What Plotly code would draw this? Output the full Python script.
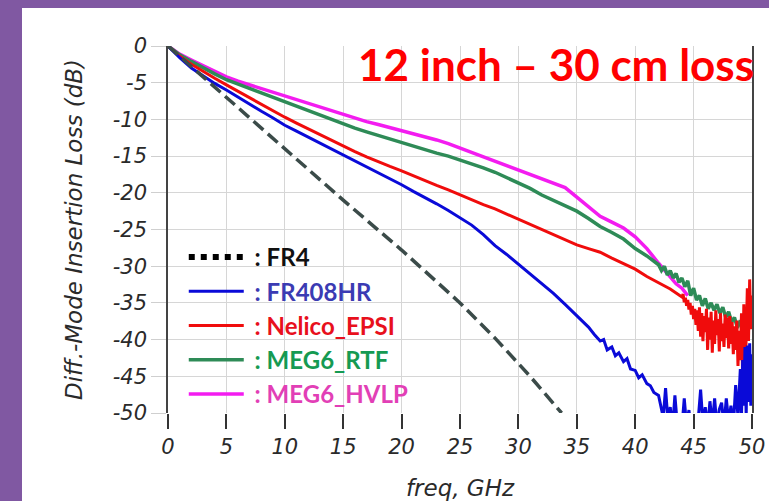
import plotly.graph_objects as go

# ---------------- data ----------------
fr4_f = [0, 2, 5, 10, 15, 20, 25, 28, 31, 33.7]
fr4_db = [0, -2.8, -7.0, -14.0, -21.0, -27.8, -35.0, -39.8, -45.0, -50.0]

fr408_f = [0, 1, 2, 3, 4, 5, 6, 7, 8, 9, 10, 11, 12, 13, 14, 15, 16, 17, 18, 19,
           20, 21, 22, 23, 24, 25, 26, 27, 28, 29, 30, 31, 32, 33, 34, 35, 36,
           36.5, 37.0, 37.3, 37.6, 38.0, 38.3, 38.6, 39.0, 39.3, 39.6, 40.0, 40.3,
           40.6, 41.0, 41.3, 41.6, 42.0, 42.2, 42.4, 42.6, 42.8, 43.0, 43.2, 43.4,
           43.6, 43.8, 44.0, 44.2, 44.4, 44.6, 44.8, 45.0, 45.2, 45.4, 45.6, 45.8,
           46.0, 46.2, 46.4, 46.6, 46.8, 47.0, 47.2, 47.4, 47.6, 47.8, 48.0, 48.2,
           48.4, 48.6, 48.8, 49.0, 49.1, 49.2, 49.3, 49.4, 49.5, 49.6, 49.7, 49.8,
           49.9, 50.0]
fr408_db = [0, -1.6, -3.0, -4.1, -5.1, -6.0, -7.0, -7.9, -8.9, -9.8, -10.8, -11.6,
            -12.4, -13.2, -14.0, -14.9, -15.7, -16.5, -17.3, -18.1, -18.9, -19.8,
            -20.6, -21.5, -22.4, -23.4, -24.4, -25.7, -27.2, -28.4, -29.7, -31.0,
            -32.3, -33.7, -35.2, -36.7, -38.3,
            -39.3, -40.2, -40.0, -41.4, -41.0, -42.2, -41.8, -43.0, -42.6, -44.0,
            -44.2, -45.2, -44.8, -46.0, -46.3, -47.2, -47.6, -49.0, -50.6, -46.6,
            -51.0, -49.2, -52.0, -47.6, -51.5, -50.2, -52.0, -48.0, -51.8, -49.6,
            -52.5, -51.0, -53.0, -50.8, -46.8, -51.5, -49.2, -52.0, -48.4, -51.6,
            -48.0, -52.0, -49.5, -48.6, -51.8, -48.0, -51.2, -49.0, -52.0, -46.2,
            -50.5, -44.0, -50.5, -42.8, -49.0, -41.0, -50.5, -40.8, -48.5, -40.5,
            -49.0, -42.0]

nelico_f = [0, 1, 2, 3, 4, 5, 6, 7, 8, 9, 10, 11, 12, 13, 14, 15, 16, 17, 18, 19,
            20, 21, 22, 23, 24, 25, 26, 27, 28, 29, 30, 31, 32, 33, 34, 35, 36, 37,
            38, 39, 40, 41, 42, 43,
            44.0, 44.1, 44.2, 44.3, 44.4, 44.5, 44.6, 44.7, 44.8, 44.9,
            45.0, 45.1, 45.2, 45.3, 45.4, 45.5, 45.6, 45.7, 45.8, 45.9,
            46.0, 46.1, 46.2, 46.3, 46.4, 46.5, 46.6, 46.7, 46.8, 46.9,
            47.0, 47.1, 47.2, 47.3, 47.4, 47.5, 47.6, 47.7, 47.8, 47.9,
            48.0, 48.1, 48.2, 48.3, 48.4, 48.5, 48.6, 48.7, 48.8, 48.9,
            49.0, 49.1, 49.2, 49.3, 49.4, 49.5, 49.6, 49.7, 49.8, 49.9, 50.0]
nelico_db = [0, -1.4, -2.5, -3.5, -4.4, -5.3, -6.2, -7.0, -7.9, -8.8, -9.7, -10.5,
             -11.3, -12.1, -12.9, -13.7, -14.4, -15.1, -15.8, -16.4, -17.0, -17.7,
             -18.3, -19.0, -19.6, -20.3, -21.0, -21.6, -22.2, -22.9, -23.6, -24.4,
             -25.1, -25.8, -26.4, -27.1, -27.6, -28.1, -28.9, -29.6, -30.4, -31.4,
             -32.3, -33.1,
             -34.2, -33.8, -34.9, -34.3, -35.4, -34.6, -35.9, -35.0, -36.6, -35.4,
             -37.2, -35.8, -38.0, -36.0, -38.8, -35.6, -39.6, -36.4, -40.2, -36.8,
             -39.0, -35.8, -41.4, -37.0, -40.0, -36.2, -41.8, -37.4, -40.6, -36.0,
             -39.4, -37.2, -41.6, -36.4, -40.2, -37.8, -41.0, -36.6, -39.8, -37.0,
             -41.2, -36.8, -40.6, -37.6, -42.0, -38.2, -41.4, -37.4, -43.6, -38.8,
             -42.8, -36.4, -45.6, -35.2, -46.4, -37.8, -33.0, -40.2, -31.8, -38.6,
             -34.0]

rtf_f = [0, 1, 2, 3, 4, 5, 6, 7, 8, 9, 10, 11, 12, 13, 14, 15, 16, 17, 18, 19,
         20, 21, 22, 23, 24, 25, 26, 27, 28, 29, 30, 31, 32, 33, 34, 35, 36, 37,
         38, 39, 40, 41,
         42.0, 42.25, 42.5, 42.75, 43.0, 43.25, 43.5, 43.75, 44.0, 44.25, 44.5,
         44.75, 45.0, 45.25, 45.5, 45.75, 46.0, 46.25, 46.5, 46.75, 47.0, 47.25,
         47.5, 47.75, 48.0, 48.25, 48.5, 48.75, 49.0, 49.25, 49.5]
rtf_db = [0, -1.2, -2.1, -3.0, -3.8, -4.6, -5.2, -5.8, -6.5, -7.1, -7.6, -8.3,
          -8.9, -9.5, -10.1, -10.7, -11.2, -11.7, -12.2, -12.7, -13.1, -13.6,
          -14.1, -14.6, -15.0, -15.5, -16.0, -16.6, -17.2, -17.9, -18.6, -19.4,
          -20.3, -21.0, -21.7, -22.5, -23.5, -24.6, -25.4, -26.3, -27.6, -28.6,
          -29.8, -30.6, -30.0, -31.2, -30.6, -31.6, -31.0, -32.2, -31.6, -32.8,
          -32.0, -34.0, -33.0, -34.6, -34.0, -35.4, -34.4, -35.8, -35.0, -36.0,
          -35.2, -36.4, -35.6, -37.0, -36.2, -37.6, -37.0, -38.4, -37.4, -38.6,
          -37.8]

hvlp_f = [0, 1, 2, 3, 4, 5, 6, 7, 8, 9, 10, 11, 12, 13, 14, 15, 16, 17, 18, 19,
          20, 21, 22, 23, 24, 25, 26, 27, 28, 29, 30, 31, 32, 33, 34, 35, 36, 37,
          38, 39, 40, 41, 42, 43, 43.5, 44, 44.5]
hvlp_db = [0, -1.1, -1.9, -2.7, -3.5, -4.2, -4.8, -5.3, -5.8, -6.3, -6.8, -7.3,
           -7.8, -8.3, -8.9, -9.4, -9.9, -10.3, -10.7, -11.1, -11.5, -11.9, -12.3,
           -12.8, -13.3, -13.9, -14.5, -15.1, -15.7, -16.3, -16.8, -17.4, -18.1,
           -18.6, -19.3, -20.6, -21.9, -23.2, -24.0, -24.8, -26.0, -27.6, -29.6,
           -31.4, -32.4, -33.0, -34.0]

x_ticks = [0, 5, 10, 15, 20, 25, 30, 35, 40, 45, 50]
x_ticktext = ["0", "5", "10", "15", "20", "25", "30", "35", "40", "45", "50"]
y_ticks = [0, -5, -10, -15, -20, -25, -30, -35, -40, -45, -50]
y_ticktext = ["0", "-5", "-10", "-15", "-20", "-25", "-30", "-35", "-40", "-45", "-50"]

names = {
    "fr4": ("FR4", "#111111"),
    "fr408": ("FR408HR", "#3b3bb3"),
    "nelico": ("Nelico_EPSI", "#e8101c"),
    "rtf": ("MEG6_RTF", "#159a52"),
    "hvlp": ("MEG6_HVLP", "#e23fb6"),
}


def leg(key):
    n, c = names[key]
    return '<span style="color:%s">\u00a0: %s</span>' % (c, n)


fig = go.Figure()

fig.add_trace(go.Scatter(x=hvlp_f, y=hvlp_db, mode="lines", name=leg("hvlp"),
                         line=dict(color="#f31cf0", width=3.5), legendrank=5,
                         legendgroup="e"))
fig.add_trace(go.Scatter(x=rtf_f, y=rtf_db, mode="lines", name=leg("rtf"),
                         line=dict(color="#2e8b57", width=3.5), legendrank=4,
                         legendgroup="d"))
fig.add_trace(go.Scatter(x=nelico_f, y=nelico_db, mode="lines", name=leg("nelico"),
                         line=dict(color="#f00c0c", width=3), legendrank=3,
                         legendgroup="c"))
fig.add_trace(go.Scatter(x=fr408_f, y=fr408_db, mode="lines", name=leg("fr408"),
                         line=dict(color="#0a0ad8", width=3), legendrank=2,
                         legendgroup="b"))
fig.add_trace(go.Scatter(x=fr4_f, y=fr4_db, mode="lines", showlegend=False,
                         line=dict(color="#3b4b49", width=3.5, dash="13px,6px"),
                         legendgroup="a"))
# legend proxy for FR4 (black square dots as in the reference key)
fig.add_trace(go.Scatter(x=[None], y=[None], mode="lines", name=leg("fr4"),
                         line=dict(color="#000000", width=6, dash="6px,6px"),
                         legendrank=1, legendgroup="a"))

tickfont = dict(family="DejaVu Sans", size=21, color="#2a2a2a", style="italic")
titlefont = dict(family="DejaVu Sans", size=23, color="#2a2a2a", style="italic")

fig.update_layout(
    width=769, height=501, autosize=False,
    margin=dict(l=168, r=17, t=46, b=88),
    paper_bgcolor="#ffffff", plot_bgcolor="#ffffff",
    showlegend=True,
    legend=dict(x=0.027, xanchor="left", y=0.485, yanchor="top",
                bgcolor="rgba(0,0,0,0)", borderwidth=0, tracegroupgap=2,
                traceorder="normal", itemwidth=55,
                font=dict(family="Lato", size=24, weight="bold", color="#111111")),
    xaxis=dict(range=[0, 50], tickvals=x_ticks, ticktext=x_ticktext,
               showgrid=True, gridcolor="#d6d6d6", gridwidth=1,
               ticks="outside", ticklen=15, tickwidth=1.5, tickcolor="#333333",
               showline=False, zeroline=False, tickfont=tickfont, automargin=False,
               title=dict(text="freq, GHz", font=titlefont, standoff=24)),
    yaxis=dict(range=[-50, 0], tickvals=y_ticks, ticktext=y_ticktext,
               showgrid=True, gridcolor="#d6d6d6", gridwidth=1,
               ticks="outside", ticklen=15, tickwidth=1, tickcolor="#cfcfcf",
               showline=True, linecolor="#444444", linewidth=1.5, mirror=True,
               zeroline=False, tickfont=tickfont, automargin=False,
               title=dict(text="Diff.-Mode Insertion Loss (dB)", font=titlefont,
                          standoff=24)),
    shapes=[
        dict(type="rect", xref="paper", yref="paper", x0=-0.30, x1=(22 - 168) / 584,
             y0=-0.30, y1=1.20, fillcolor="#8058a2", line=dict(width=0), layer="below"),
        dict(type="rect", xref="paper", yref="paper", x0=-0.30, x1=1.10,
             y0=(413 - 8) / 367, y1=1.20, fillcolor="#8058a2", line=dict(width=0),
             layer="below"),
    ],
    annotations=[
        dict(text="12 inch \u2013 30 cm loss", xref="paper", yref="paper",
             x=1.0 + 4 / 584, xanchor="right", y=(413 - 64) / 367, yanchor="middle",
             showarrow=False,
             font=dict(family="Lato", size=44, weight="bold", color="#ff0000")),
    ],
)

fig.write_html("out.html")
